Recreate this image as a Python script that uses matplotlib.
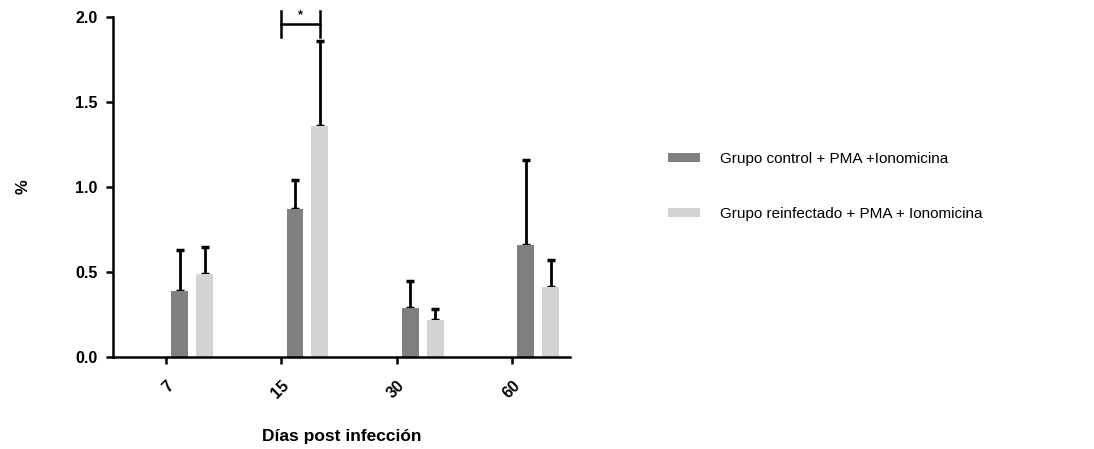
import numpy as np
import matplotlib
matplotlib.use('Agg')
import matplotlib.pyplot as plt

plt.rcParams['font.family'] = ['Liberation Sans', 'DejaVu Sans']

# datos
dias = ['7', '15', '30', '60']
control = [0.39, 0.87, 0.29, 0.66]
control_err = [0.24, 0.17, 0.16, 0.50]
reinf = [0.49, 1.36, 0.22, 0.41]
reinf_err = [0.16, 0.50, 0.06, 0.16]
etiquetas = ['Grupo control + PMA +Ionomicina', 'Grupo reinfectado + PMA + Ionomicina']

fig = plt.figure(figsize=(10.94, 4.49), dpi=100)
ax = fig.add_axes([0.1033, 0.2049, 0.4177, 0.7572])

x = np.arange(len(dias))
w = 0.147
ax.bar(x + 0.117, control, w, color='#808080', label=etiquetas[0], zorder=2)
ax.bar(x + 0.333, reinf, w, color='#d3d3d3', label=etiquetas[1], zorder=2)
ax.errorbar(x + 0.117, control, yerr=[np.zeros(4), control_err], fmt='none',
            ecolor='black', elinewidth=2, capsize=3, capthick=2.5, zorder=1)
ax.errorbar(x + 0.333, reinf, yerr=[np.zeros(4), reinf_err], fmt='none',
            ecolor='black', elinewidth=2, capsize=3, capthick=2.5, zorder=1)

# barra de significancia
x1, x2 = 1.0, 1.333
ax.plot([x1, x2], [1.96, 1.96], color='black', lw=1.8, clip_on=False)
ax.plot([x1, x1], [1.88, 2.035], color='black', lw=1.8, clip_on=False)
ax.plot([x2, x2], [1.88, 2.035], color='black', lw=1.8, clip_on=False)
ax.text((x1 + x2) / 2, 1.975, '*', ha='center', va='bottom', fontsize=9, fontweight='bold')

ax.set_xlim(-0.46, 3.5)
ax.set_ylim(0, 2.0)
ax.set_xticks(x)
ax.set_xticklabels(dias, rotation=45, ha='right', rotation_mode='anchor',
                   fontsize=11.5, fontweight='bold')
ax.set_yticks([0, 0.5, 1.0, 1.5, 2.0])
ax.set_yticklabels(['0.0', '0.5', '1.0', '1.5', '2.0'], fontsize=11.5, fontweight='bold')
for s in ['top', 'right']:
    ax.spines[s].set_visible(False)
for s in ['left', 'bottom']:
    ax.spines[s].set_linewidth(1.8)
ax.tick_params(axis='both', width=1.8, length=5)
ax.tick_params(axis='y', pad=6)
ax.tick_params(axis='x', pad=10)

ax.set_xlabel('Días post infección', fontsize=12.5, fontweight='bold', labelpad=20)
ax.set_ylabel('%', fontsize=12, fontweight='bold', labelpad=32)

fig.legend(loc='center left', bbox_to_anchor=(0.598, 0.585), frameon=False,
           fontsize=11, handlelength=2.1, handleheight=0.55, labelspacing=2.65,
           handletextpad=1.3)

plt.savefig('out.png', dpi=100)
